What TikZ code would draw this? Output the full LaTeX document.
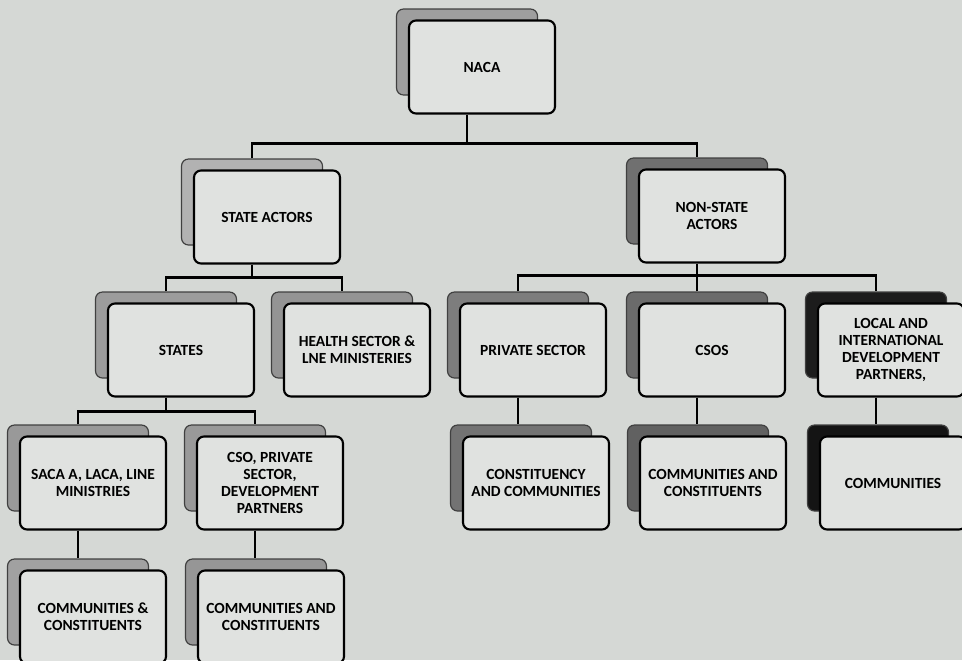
\documentclass[tikz,border=0pt]{standalone}
\usepackage{fontspec}
\setmainfont{Carlito}
\usepackage{tikz}

\definecolor{paper}{HTML}{D5D8D5}
\definecolor{cardfill}{HTML}{E0E2E0}

\tikzset{
    card/.style={draw=black, line width=1.8pt, rounded corners=6pt, fill=cardfill,
        minimum width=4.38cm, minimum height=2.79cm, inner sep=0pt, align=center,
        font=\fontsize{13.2}{14.5}\selectfont\bfseries},
    backcard/.style={draw=black!75, line width=1pt, rounded corners=6pt, fill=#1,
        minimum width=4.23cm, minimum height=2.58cm, inner sep=0pt},
    link/.style={line width=2pt, black}
}

\begin{document}
\begin{tikzpicture}[x=0.03cm, y=-0.03cm]
    \useasboundingbox[fill=paper] (0,0) rectangle (962,660);

    % top
    \node[backcard=black!38] (naca-sh) at (467,52) {};
    \node[card] (naca) at (482,67) {NACA};

    % second row
    \node[backcard=black!30] (stact-sh) at (252,202) {};
    \node[card] (stact) at (267,217) {STATE ACTORS};
    \node[backcard=black!56] (nonst-sh) at (697,201) {};
    \node[card] (nonst) at (712,216) {NON-STATE\\ACTORS};

    % third row
    \node[backcard=black!39] (states-sh) at (166,335) {};
    \node[card] (states) at (181,350) {STATES};
    \node[backcard=black!42] (health-sh) at (342,335) {};
    \node[card] (health) at (357,350) {HEALTH SECTOR \&\\LNE MINISTERIES};
    \node[backcard=black!51] (private-sh) at (518,335) {};
    \node[card] (private) at (533,350) {PRIVATE SECTOR};
    \node[backcard=black!58] (csos-sh) at (697,335) {};
    \node[card] (csos) at (712,350) {CSOS};
    \node[backcard=black!89] (local-sh) at (876,335) {};
    \node[card] (local) at (891,350) {LOCAL AND\\INTERNATIONAL\\DEVELOPMENT\\PARTNERS,};

    % fourth row
    \node[backcard=black!40] (saca-sh) at (78,468) {};
    \node[card] (saca) at (93,483) {SACA A, LACA, LINE\\MINISTRIES};
    \node[backcard=black!40] (cso-sh) at (255,468) {};
    \node[card] (cso) at (270,483) {CSO, PRIVATE\\SECTOR,\\DEVELOPMENT\\PARTNERS};
    \node[backcard=black!55] (constit-sh) at (521,468) {};
    \node[card] (constit) at (536,483) {CONSTITUENCY\\AND COMMUNITIES};
    \node[backcard=black!62] (commcon-sh) at (698,468) {};
    \node[card] (commcon) at (713,483) {COMMUNITIES AND\\CONSTITUENTS};
    \node[backcard=black!92] (comm-sh) at (878,468) {};
    \node[card] (comm) at (893,483) {COMMUNITIES};

    % bottom row
    \node[backcard=black!37] (comm1-sh) at (78,602) {};
    \node[card] (comm1) at (93,617) {COMMUNITIES \&\\CONSTITUENTS};
    \node[backcard=black!41] (comm2-sh) at (256,602) {};
    \node[card] (comm2) at (271,617) {COMMUNITIES AND\\CONSTITUENTS};

    % connectors
    \draw[link] (naca.south -| naca-sh.center) -- ++(0,29) coordinate (naca-bar);
    \draw[link] (stact-sh.north) |- (naca-bar) -| (nonst-sh.north);

    \draw[link] (stact.south -| stact-sh.center) -- ++(0,13) coordinate (stact-bar);
    \draw[link] (states-sh.north) |- (stact-bar) -| (health-sh.north);

    \draw[link] (nonst.south -| nonst-sh.center) -- ++(0,12) coordinate (nonst-bar);
    \draw[link] (private-sh.north) |- (nonst-bar) -| (local-sh.north);
    \draw[link] (csos-sh.north) -- (csos-sh.north |- nonst-bar);

    \draw[link] (states.south -| states-sh.center) -- ++(0,14) coordinate (states-bar);
    \draw[link] (saca-sh.north) |- (states-bar) -| (cso-sh.north);

    \draw[link] (private.south -| private-sh.center) -- (private-sh.center |- constit-sh.north);
    \draw[link] (csos.south -| csos-sh.center) -- (csos-sh.center |- commcon-sh.north);
    \draw[link] (local.south -| local-sh.center) -- (local-sh.center |- comm-sh.north);
    \draw[link] (saca.south -| saca-sh.center) -- (saca-sh.center |- comm1-sh.north);
    \draw[link] (cso.south -| cso-sh.center) -- (cso-sh.center |- comm2-sh.north);
\end{tikzpicture}
\end{document}
